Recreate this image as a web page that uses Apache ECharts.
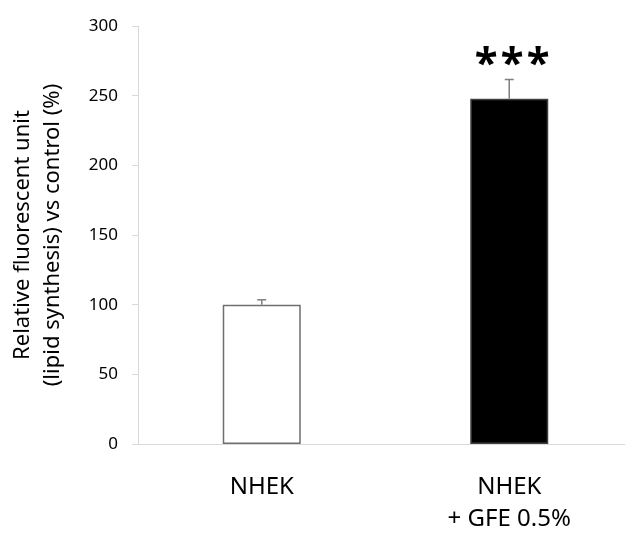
<!DOCTYPE html>
<html>
<head>
<meta charset="utf-8">
<script src="https://cdn.jsdelivr.net/npm/echarts@6/dist/echarts.min.js"></script>
<style>html,body{margin:0;padding:0;background:#fff;}#c{width:625px;height:534px;}</style>
</head>
<body>
<div id="c"></div>
<script>
const categories = ['NHEK', 'NHEK\n+ GFE 0.5%'];
const means = [100, 247.8];
const errors = [3.5, 13.8];
const significance = ['', '***'];
const yTicks = { min: 0, max: 300, interval: 50 };

const chart = echarts.init(document.getElementById('c'), null, { renderer: 'canvas' });
const FONT = 'Noto Sans';
const option = {
  backgroundColor: '#ffffff',
  animation: false,
  grid: { left: 138, width: 495, top: 26, height: 418, outerBoundsMode: 'none', containLabel: false },
  xAxis: {
    type: 'category',
    data: categories,
    axisLine: { show: true, lineStyle: { color: '#d9d9d9', width: 1 } },
    axisTick: { show: false },
    axisLabel: { color: '#000', fontFamily: FONT, fontSize: 24, lineHeight: 32, margin: 27 }
  },
  yAxis: {
    type: 'value',
    min: yTicks.min, max: yTicks.max, interval: yTicks.interval,
    name: 'Relative fluorescent unit\n(lipid synthesis) vs control (%)',
    nameLocation: 'middle',
    nameGap: 70,
    nameTextStyle: { color: '#000', fontFamily: FONT, fontSize: 22, lineHeight: 30 },
    axisLine: { show: true, lineStyle: { color: '#d9d9d9', width: 1 } },
    axisTick: { show: true, length: 6, lineStyle: { color: '#d9d9d9' } },
    axisLabel: { color: '#000', fontFamily: FONT, fontSize: 17, margin: 20 },
    splitLine: { show: false }
  },
  series: [
    {
      type: 'bar',
      barWidth: 78,
      data: means.map((v, i) => ({
        value: v,
        itemStyle: i === 0
          ? { color: '#ffffff', borderColor: '#6f6f6f', borderWidth: 1.5 }
          : { color: '#000000', borderColor: '#404040', borderWidth: 1.5 },
        label: significance[i] ? {
          show: true,
          position: 'top',
          distance: 13,
          offset: [3, 0],
          formatter: '{s|*}{s|*}{s|*}',
          rich: { s: { fontFamily: FONT, fontWeight: 'bold', fontSize: 42, width: 26, align: 'center', color: '#000', lineHeight: 42 } }
        } : { show: false }
      })),
      z: 2
    },
    {
      type: 'custom',
      z: 3,
      data: means.map((v, i) => [i, v, v + errors[i]]),
      renderItem: function (params, api) {
        const x = api.value(0);
        const base = api.coord([x, api.value(1)]);
        const top = api.coord([x, api.value(2)]);
        const hw = 4.5;
        return {
          type: 'group',
          children: [
            { type: 'line', shape: { x1: base[0], y1: base[1], x2: top[0], y2: top[1] }, style: { stroke: '#7f7f7f', lineWidth: 1.5 } },
            { type: 'line', shape: { x1: top[0] - hw, y1: top[1], x2: top[0] + hw, y2: top[1] }, style: { stroke: '#7f7f7f', lineWidth: 1.5 } }
          ]
        };
      }
    }
  ]
};
chart.setOption(option);
</script>
</body>
</html>
